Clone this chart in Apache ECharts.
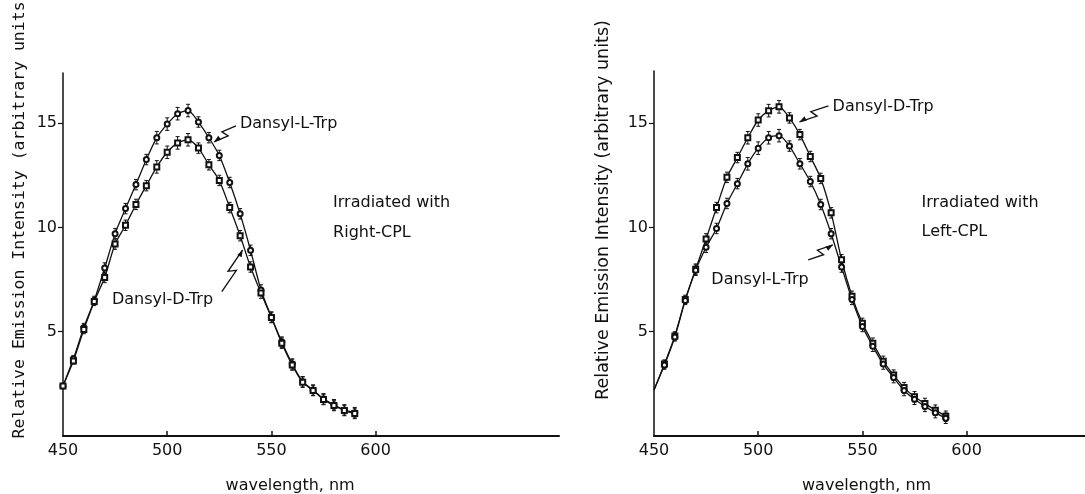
<!DOCTYPE html>
<html><head><meta charset="utf-8">
<script src="https://cdn.jsdelivr.net/npm/echarts@6/dist/echarts.min.js"></script>
<style>html,body{margin:0;padding:0;background:#fff}#c{width:1085px;height:494px}</style>
</head><body><div id="c"></div>
<script>
// ---- data ----
const wavelengths = [450,455,460,465,470,475,480,485,490,495,500,505,510,515,520,525,530,535,540,545,550,555,560,565,570,575,580,585,590];
// Panel 1: irradiated with Right-CPL
const rightCPL_L = [2.4,3.7,5.2,6.5,8.05,9.7,10.9,12.05,13.25,14.3,14.95,15.45,15.6,15.05,14.3,13.45,12.15,10.65,8.9,7.0,5.7,4.5,3.45,2.6,2.2,1.78,1.5,1.25,1.12];
const rightCPL_D = [2.4,3.6,5.1,6.45,7.6,9.2,10.1,11.1,12.0,12.9,13.6,14.05,14.2,13.8,13.0,12.25,10.95,9.6,8.1,6.85,5.68,4.45,3.4,2.58,2.18,1.75,1.46,1.22,1.08];
const errRightCPL_L = [0,0.15,0.2,0.2,0.25,0.25,0.25,0.25,0.25,0.3,0.3,0.3,0.3,0.25,0.25,0.25,0.25,0.25,0.25,0.25,0.25,0.25,0.25,0.25,0.25,0.25,0.25,0.25,0.25];
const errRightCPL_D = [0,0.15,0.2,0.2,0.25,0.25,0.25,0.25,0.25,0.3,0.3,0.3,0.3,0.25,0.25,0.25,0.25,0.25,0.25,0.25,0.25,0.25,0.25,0.25,0.25,0.25,0.25,0.25,0.25];
// Panel 2: irradiated with Left-CPL
const leftCPL_D = [2.2,3.45,4.8,6.55,8.0,9.45,10.95,12.4,13.35,14.3,15.15,15.6,15.78,15.25,14.45,13.4,12.35,10.7,8.45,6.7,5.4,4.45,3.58,2.92,2.32,1.88,1.56,1.24,0.95];
const leftCPL_L = [2.2,3.4,4.75,6.5,7.95,9.05,9.95,11.15,12.1,13.05,13.8,14.3,14.4,13.9,13.05,12.2,11.1,9.7,8.1,6.55,5.25,4.3,3.45,2.8,2.18,1.76,1.42,1.12,0.85];
const errLeftCPL_D = [0,0.2,0.2,0.2,0.25,0.25,0.25,0.25,0.25,0.3,0.3,0.3,0.3,0.25,0.25,0.25,0.25,0.25,0.25,0.25,0.25,0.25,0.25,0.25,0.25,0.25,0.25,0.25,0.25];
const errLeftCPL_L = [0,0.2,0.2,0.2,0.25,0.25,0.25,0.25,0.25,0.3,0.3,0.3,0.3,0.25,0.25,0.25,0.25,0.25,0.25,0.25,0.25,0.25,0.25,0.25,0.25,0.25,0.25,0.25,0.25];
const xTickLabels = [450,500,550,600];
const xTickMarks = [500,550,600];
const yTickLabels = [5,10,15];
const xTitle = 'wavelength, nm';
const yTitle = 'Relative Emission Intensity (arbitrary units)';

// ---- layout / styles ----
const FONT = 'DejaVu Sans';
const BLACK = '#111';
const chart = echarts.init(document.getElementById('c'), null, {renderer:'canvas'});

function xAxisCfg(gridIndex, max){
  return {type:'value', gridIndex, min:450, max,
    axisLine:{show:true, lineStyle:{color:BLACK, width:2}},
    axisTick:{show:true, inside:true, length:5, customValues:xTickMarks, lineStyle:{color:BLACK, width:1.5}},
    axisLabel:{show:true, customValues:xTickLabels, color:BLACK, fontFamily:FONT, fontSize:16, margin:7},
    splitLine:{show:false}};
}
function yAxisCfg(gridIndex, max){
  return {type:'value', gridIndex, min:0, max,
    axisLine:{show:true, lineStyle:{color:BLACK, width:1.5}},
    axisTick:{show:true, inside:false, length:5, customValues:yTickLabels, lineStyle:{color:BLACK, width:1.2}},
    axisLabel:{show:true, customValues:yTickLabels, color:BLACK, fontFamily:FONT, fontSize:16, margin:6},
    splitLine:{show:false}};
}
function lineSeries(idx, vals, symbol, skipFirst){
  return {type:'line', xAxisIndex:idx, yAxisIndex:idx, z:3, smooth:0.25,
    data: wavelengths.map((w,i)=> (skipFirst && i===0) ? {value:[w,vals[i]], symbol:'none'} : [w, vals[i]]),
    symbol, symbolSize:5, showSymbol:true,
    lineStyle:{color:BLACK, width:1.3},
    itemStyle:{color:BLACK, borderWidth:1}};
}
function errSeries(idx, vals, errs){
  return {type:'custom', xAxisIndex:idx, yAxisIndex:idx, z:2,
    data: wavelengths.map((w,i)=>[w, vals[i], errs[i]]),
    renderItem:(params, api)=>{
      const x=api.value(0), y=api.value(1), e=api.value(2);
      if(!e) return null;
      const t=api.coord([x,y+e]), b=api.coord([x,y-e]);
      const st={stroke:BLACK, lineWidth:1};
      return {type:'group', children:[
        {type:'line', shape:{x1:t[0],y1:t[1],x2:b[0],y2:b[1]}, style:st},
        {type:'line', shape:{x1:t[0]-2,y1:t[1],x2:t[0]+2,y2:t[1]}, style:st},
        {type:'line', shape:{x1:b[0]-2,y1:b[1],x2:b[0]+2,y2:b[1]}, style:st}
      ]};
    }};
}

chart.setOption({
  animation:false,
  backgroundColor:'#fff',
  grid:[
    {left:63, top:73, width:496, height:363, outerBoundsMode:'none'},
    {left:654, top:71, width:431, height:365, outerBoundsMode:'none'}
  ],
  xAxis:[xAxisCfg(0,688), xAxisCfg(1,656.8)],
  yAxis:[yAxisCfg(0,17.4), yAxisCfg(1,17.5)],
  series:[
    errSeries(0, rightCPL_L, errRightCPL_L),
    errSeries(0, rightCPL_D, errRightCPL_D),
    lineSeries(0, rightCPL_L, 'emptyCircle', false),
    lineSeries(0, rightCPL_D, 'emptyRect', false),
    errSeries(1, leftCPL_D, errLeftCPL_D),
    errSeries(1, leftCPL_L, errLeftCPL_L),
    lineSeries(1, leftCPL_D, 'emptyRect', true),
    lineSeries(1, leftCPL_L, 'emptyCircle', true)
  ]
});

// ---- annotations (positions in data coordinates) ----
const labels = [
  {g:0, text:'Dansyl-L-Trp', at:[534.9,14.96]},
  {g:0, text:'Dansyl-D-Trp', at:[473.5,6.52]},
  {g:0, text:'Irradiated with', at:[579.6,11.18]},
  {g:0, text:'Right-CPL', at:[579.6,9.74]},
  {g:1, text:'Dansyl-D-Trp', at:[535.7,15.78]},
  {g:1, text:'Dansyl-L-Trp', at:[477.5,7.48]},
  {g:1, text:'Irradiated with', at:[578.4,11.18]},
  {g:1, text:'Left-CPL', at:[578.4,9.78]}
];
const leaders = [
  {g:0, from:[533.0,14.87], to:[522.5,14.1]},
  {g:0, from:[526.2,6.92], to:[536.2,8.92]},
  {g:1, from:[533.7,15.83], to:[519.8,15.06]},
  {g:1, from:[524.0,8.44], to:[535.8,9.16]}
];
const xTitleAt = [{g:0, at:559}, {g:1, at:552}];

function px(g, p){ return chart.convertToPixel({xAxisIndex:g, yAxisIndex:g}, p); }
const gfx = [];
labels.forEach(l=>{
  const p = px(l.g, l.at);
  gfx.push({type:'text', x:p[0], y:p[1], z:10, style:{text:l.text, font:'16px "'+FONT+'"', fill:BLACK, align:'left', verticalAlign:'middle'}});
});
leaders.forEach(l=>{
  const S = px(l.g, l.from), T = px(l.g, l.to);
  const dx=T[0]-S[0], dy=T[1]-S[1], len=Math.hypot(dx,dy);
  const ux=dx/len, uy=dy/len, nx=-uy, ny=ux, k=3.5;
  const A=[S[0]+0.55*dx+k*nx, S[1]+0.55*dy+k*ny];
  const B=[S[0]+0.45*dx-k*nx, S[1]+0.45*dy-k*ny];
  gfx.push({type:'polyline', z:10, shape:{points:[S,A,B,T]}, style:{stroke:BLACK, lineWidth:1.3, fill:null}});
  const bx=T[0]-ux*7, by=T[1]-uy*7;
  gfx.push({type:'polygon', z:10, shape:{points:[T,[bx+nx*2.5,by+ny*2.5],[bx-nx*2.5,by-ny*2.5]]}, style:{fill:BLACK}});
});
xTitleAt.forEach(t=>{
  const p = px(t.g, [t.at, 0]);
  gfx.push({type:'text', x:p[0], y:p[1]+50, z:10, style:{text:xTitle, font:'16px "'+FONT+'"', fill:BLACK, align:'center', verticalAlign:'middle'}});
});
// y titles
{
  gfx.push({type:'text', x:20, y:215, rotation:Math.PI/2, z:10, style:{text:yTitle, font:'16.5px "DejaVu Sans Mono"', fill:BLACK, align:'center', verticalAlign:'middle'}});
  const p1 = px(1,[450,0]);
  gfx.push({type:'text', x:p1[0]-51, y:210, rotation:Math.PI/2, z:10, style:{text:yTitle, font:'17.5px "'+FONT+'"', fill:BLACK, align:'center', verticalAlign:'middle'}});
}
chart.setOption({graphic:gfx});
</script>
</body></html>
